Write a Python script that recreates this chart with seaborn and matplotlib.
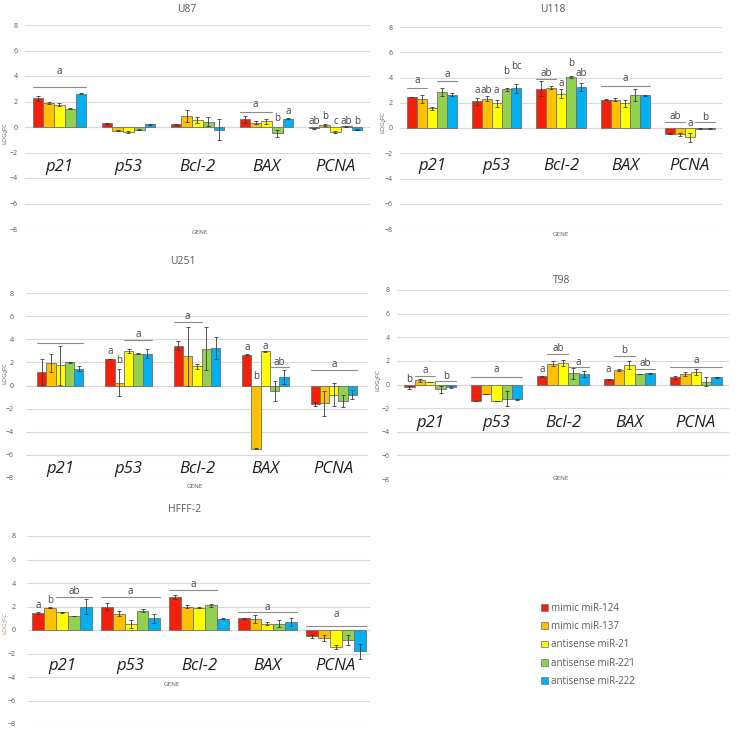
import pandas as pd
import matplotlib
matplotlib.use('Agg')
import matplotlib.pyplot as plt
from matplotlib.patches import Patch
import seaborn as sns

genes = ['p21', 'p53', 'Bcl-2', 'BAX', 'PCNA']
treatments = ['mimic miR-124', 'mimic miR-137', 'antisense miR-21',
              'antisense miR-221', 'antisense miR-222']
colors = ['#F5200A', '#FFC000', '#FFFF00', '#92D050', '#00B0F0']

# rows = genes, columns = treatments (LOG2FC)
u87_mean = [[2.25, 1.9, 1.75, 1.45, 2.6],
            [0.3, -0.3, -0.4, -0.2, 0.2],
            [0.2, 0.85, 0.55, 0.4, -0.2],
            [0.6, 0.35, 0.45, -0.5, 0.65],
            [-0.1, 0.15, -0.4, 0.05, -0.2]]
u87_err = [[0.2, 0.1, 0.1, 0.05, 0.05],
           [0.05, 0.05, 0.05, 0.05, 0.05],
           [0.05, 0.45, 0.2, 0.35, 0.8],
           [0.25, 0.15, 0.2, 0.3, 0.05],
           [0.05, 0.05, 0.05, 0.05, 0.05]]

u118_mean = [[2.45, 2.3, 1.55, 2.85, 2.65],
             [2.1, 2.3, 1.95, 3.05, 3.15],
             [3.1, 3.2, 2.7, 4.05, 3.25],
             [2.25, 2.25, 1.95, 2.6, 2.6],
             [-0.45, -0.5, -0.75, -0.05, -0.05]]
u118_err = [[0.03, 0.35, 0.15, 0.3, 0.1],
            [0.25, 0.2, 0.3, 0.1, 0.35],
            [0.6, 0.1, 0.35, 0.1, 0.3],
            [0.03, 0.1, 0.25, 0.45, 0.03],
            [0.05, 0.1, 0.35, 0.03, 0.03]]

u251_mean = [[1.15, 1.95, 1.75, 2.0, 1.45],
             [2.3, 0.25, 3.0, 2.75, 2.75],
             [3.45, 2.55, 1.65, 3.2, 3.25],
             [2.65, -5.45, 2.95, -0.45, 0.75],
             [-1.6, -1.55, -0.8, -1.35, -0.8]]
u251_err = [[1.1, 0.8, 1.7, 0.03, 0.2],
            [0.03, 1.2, 0.2, 0.05, 0.4],
            [0.4, 2.55, 0.2, 1.9, 0.95],
            [0.05, 0.05, 0.03, 0.85, 0.6],
            [0.2, 1.1, 1.0, 0.5, 0.4]]

t98_mean = [[-0.25, 0.35, 0.2, -0.4, -0.2],
            [-1.4, -0.8, -1.4, -1.2, -1.25],
            [0.7, 1.75, 1.8, 0.95, 0.9],
            [0.45, 1.25, 1.65, 0.9, 0.95],
            [0.6, 0.9, 1.05, 0.25, 0.6]]
t98_err = [[0.1, 0.1, 0.03, 0.3, 0.1],
           [0.03, 0.03, 0.03, 0.65, 0.03],
           [0.03, 0.2, 0.25, 0.45, 0.25],
           [0.03, 0.1, 0.3, 0.03, 0.05],
           [0.15, 0.2, 0.25, 0.4, 0.03]]

hfff_mean = [[1.45, 1.9, 1.5, 1.2, 2.0],
             [2.0, 1.4, 0.5, 1.65, 1.0],
             [2.8, 2.0, 1.9, 2.1, 0.95],
             [1.0, 0.95, 0.55, 0.55, 0.65],
             [-0.55, -0.65, -1.45, -0.85, -1.8]]
hfff_err = [[0.1, 0.03, 0.03, 0.03, 0.6],
            [0.3, 0.25, 0.35, 0.1, 0.4],
            [0.2, 0.15, 0.03, 0.1, 0.03],
            [0.03, 0.35, 0.1, 0.3, 0.35],
            [0.15, 0.25, 0.15, 0.45, 0.65]]

# significance letters: (gene, first bar, last bar, bracket y or None, letter, letter y)
u87_sig = [(0, 0, 4, 3.1, 'a', 4.35),
           (3, 0, 2, 1.2, 'a', 1.75), (3, 3, 3, None, 'b', 0.65), (3, 4, 4, None, 'a', 1.2),
           (4, 0, 0, None, 'ab', 0.45), (4, 1, 1, None, 'b', 0.85), (4, 2, 2, None, 'c', 0.45),
           (4, 3, 3, None, 'ab', 0.45), (4, 4, 4, None, 'b', 0.45)]
u118_sig = [(0, 0, 1, 3.2, 'a', 3.8), (0, 3, 4, 3.7, 'a', 4.25),
            (1, 0, 0, None, 'a', 2.95), (1, 1, 1, None, 'ab', 2.95), (1, 2, 2, None, 'a', 2.95),
            (1, 3, 3, None, 'b', 4.5), (1, 4, 4, None, 'bc', 4.85),
            (2, 0, 1, 3.85, 'ab', 4.35), (2, 2, 2, None, 'a', 3.5), (2, 3, 3, None, 'b', 5.1),
            (2, 4, 4, None, 'ab', 4.3),
            (3, 0, 4, 3.3, 'a', 3.9),
            (4, 0, 1, 0.45, 'ab', 0.9), (4, 2, 2, None, 'a', 0.35), (4, 3, 4, 0.45, 'b', 0.85)]
u251_sig = [(0, 0, 4, 3.7, '', 0),
            (1, 0, 0, None, 'a', 2.9), (1, 1, 1, None, 'b', 2.2), (1, 2, 4, 3.9, 'a', 4.4),
            (2, 0, 2, 5.5, 'a', 5.95),
            (3, 0, 0, None, 'a', 3.25), (3, 1, 1, None, 'b', 0.8), (3, 2, 2, None, 'a', 3.4),
            (3, 3, 4, 1.6, 'ab', 2.0),
            (4, 0, 4, 1.3, 'a', 1.8)]
t98_sig = [(0, 0, 0, None, 'b', 0.45), (0, 1, 2, 0.7, 'a', 1.2), (0, 3, 4, 0.3, 'b', 0.65),
           (1, 0, 4, 0.6, 'a', 1.25),
           (2, 0, 0, None, 'a', 1.3), (2, 1, 2, 2.6, 'ab', 3.05), (2, 3, 4, 1.45, 'a', 1.9),
           (3, 0, 0, None, 'a', 1.3), (3, 1, 2, 2.4, 'b', 2.85), (3, 3, 4, 1.35, 'ab', 1.75),
           (4, 0, 4, 1.5, 'a', 2.0)]
hfff_sig = [(0, 0, 0, None, 'a', 2.1), (0, 1, 1, None, 'b', 2.5), (0, 2, 4, 2.85, 'ab', 3.25),
            (1, 0, 4, 2.85, 'a', 3.3),
            (2, 0, 3, 3.4, 'a', 3.9),
            (3, 0, 4, 1.5, 'a', 1.9),
            (4, 0, 4, 0.35, 'a', 1.3)]

W, H = 738, 731
sns.set_style('white')
plt.rcParams['font.family'] = ['Open Sans', 'DejaVu Sans']
fig = plt.figure(figsize=(W / 100, H / 100), dpi=100)

GRAY = '#595959'


def draw_panel(title, mean, err, sig, box, bar_w, gene_y, title_xy, gene_xy, ylab_xy,
               tick_pad=5, ylab_color=GRAY, left_spine=False):
    left, top, right, bottom = box
    ax = fig.add_axes([left / W, 1 - bottom / H, (right - left) / W, (bottom - top) / H])
    rows = []
    for g, gene in enumerate(genes):
        for t, tr in enumerate(treatments):
            rows.append({'gene': gene, 'treatment': tr, 'value': mean[g][t]})
    df = pd.DataFrame(rows)
    sns.barplot(data=df, x='gene', y='value', hue='treatment', order=genes,
                hue_order=treatments, palette=colors, saturation=1, width=bar_w,
                errorbar=None, edgecolor='#6f6f6f', linewidth=0.6, legend=False, ax=ax)
    bars = list(ax.containers)
    # error bars on the seaborn bars
    for t, cont in enumerate(bars):
        xs = [b.get_x() + b.get_width() / 2 for b in cont]
        ys = [mean[g][t] for g in range(len(genes))]
        es = [err[g][t] for g in range(len(genes))]
        ax.errorbar(xs, ys, yerr=es, fmt='none', ecolor='#3a3a3a', elinewidth=0.6,
                    capsize=1.6, capthick=0.6, zorder=4)
    for g, h0, h1, yl, letter, yt in sig:
        b0 = bars[h0][g]
        b1 = bars[h1][g]
        x0 = b0.get_x()
        x1 = b1.get_x() + b1.get_width()
        if yl is not None:
            ax.plot([x0, x1], [yl, yl], color='#8c8c8c', lw=0.8, zorder=4)
        if letter:
            ax.text((x0 + x1) / 2, yt, letter, ha='center', va='center',
                    fontsize=7, color='#404040', zorder=5)
    for g, gene in enumerate(genes):
        ax.text(g, gene_y, gene, ha='center', va='center', fontsize=12,
                fontstyle='italic', color='#1f1f1f')
    ax.set_ylim(-8, 8)
    ax.set_xlim(-0.5, len(genes) - 0.5)
    ax.set_yticks(range(-8, 9, 2))
    ax.tick_params(axis='y', length=0, labelsize=5, labelcolor=GRAY, pad=tick_pad)
    ax.set_xticks([])
    ax.set_xlabel('')
    ax.set_ylabel('')
    ax.yaxis.grid(True, color='#d9d9d9', lw=0.8)
    ax.set_axisbelow(True)
    ax.axhline(0, color='#cfcfcf', lw=0.8, zorder=0.5)
    for s in ax.spines.values():
        s.set_visible(False)
    if left_spine:
        ax.spines['left'].set_visible(True)
        ax.spines['left'].set_color('#c8c8c8')
        ax.spines['left'].set_linewidth(0.8)
    fig.text(title_xy[0] / W, 1 - title_xy[1] / H, title, ha='center', va='center',
             fontsize=7.5, color=GRAY)
    fig.text(gene_xy[0] / W, 1 - gene_xy[1] / H, 'GENE', ha='center', va='center',
             fontsize=4.5, color=GRAY)
    fig.text(ylab_xy[0] / W, 1 - ylab_xy[1] / H, 'LOG\u2082FC', rotation=90,
             ha='center', va='center', fontsize=4.5, color=ylab_color)
    return ax


draw_panel('U87', u87_mean, u87_err, u87_sig, (25, 25, 370, 229), 0.78, -3.1,
           (187, 10), (200, 233), (5, 133))
draw_panel('U118', u118_mean, u118_err, u118_sig, (400, 27, 722, 229), 0.77, -3.0,
           (553, 10), (561, 235), (383, 122))
draw_panel('U251', u251_mean, u251_err, u251_sig, (26, 293, 368, 478), 0.68, -7.2,
           (183, 261), (195, 486), (5, 373), tick_pad=9)
draw_panel('T98', t98_mean, t98_err, t98_sig, (397, 290, 729, 479), 0.78, -3.3,
           (562, 281), (561, 478), (378, 380))
draw_panel('HFFF-2', hfff_mean, hfff_err, hfff_sig, (28, 536, 370, 724), 0.87, -3.1,
           (185, 510), (172, 684), (5, 623), tick_pad=9, ylab_color='#b08a6a')

handles = [Patch(facecolor=c, edgecolor='#7f7f7f', linewidth=0.6) for c in colors]
fig.legend(handles, treatments, loc='upper left', bbox_to_anchor=(537 / W, 1 - 599 / H),
           frameon=False, fontsize=7, labelcolor=GRAY, handlelength=0.7, handleheight=0.7,
           handletextpad=0.3, labelspacing=0.75, borderaxespad=0)

fig.savefig('out.png', dpi=100)
